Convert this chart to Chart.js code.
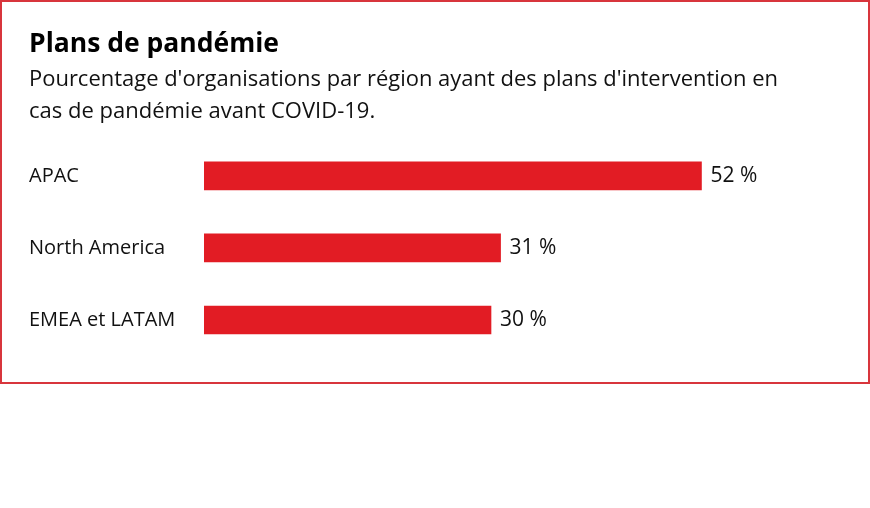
<!DOCTYPE html>
<html lang="fr">
<head>
  <meta charset="UTF-8">
  <title>Plans de pandémie</title>
  <script src="https://cdn.jsdelivr.net/npm/chart.js"></script>
  <style>
    html, body { margin: 0; padding: 0; background: #fff; }
    #box {
      position: absolute;
      left: 0; top: 0;
      width: 866px; height: 380px;
      border: 2px solid #d8353c;
    }
  </style>
</head>
<body>
  <div id="box">
    <canvas id="chart" width="866" height="380"></canvas>
  </div>

  <script>
    // Data
    var regions = ['APAC', 'North America', 'EMEA et LATAM'];
    var percentages = [52, 31, 30];
    var titleText = 'Plans de pandémie';
    var subtitleLines = [
      "Pourcentage d'organisations par région ayant des plans d'intervention en",
      'cas de pandémie avant COVID-19.'
    ];

    var fontFamily = '"Open Sans", "Noto Sans", sans-serif';
    var barRed = '#e21c24';

    // writes "52 %" just after the end of each bar
    var valueLabels = {
      id: 'valueLabels',
      afterDatasetsDraw: function(chart) {
        var ctx = chart.ctx;
        var meta = chart.getDatasetMeta(0);
        ctx.save();
        ctx.font = '21px ' + fontFamily;
        ctx.fillStyle = '#111';
        ctx.textAlign = 'left';
        ctx.textBaseline = 'middle';
        meta.data.forEach(function(bar, i) {
          ctx.fillText(percentages[i] + ' %', bar.x + 9, bar.y);
        });
        ctx.restore();
      }
    };

    new Chart(document.getElementById('chart'), {
      type: 'bar',
      data: {
        labels: regions,
        datasets: [{
          data: percentages,
          backgroundColor: barRed,
          borderWidth: 0,
          barThickness: 28
        }]
      },
      options: {
        indexAxis: 'y',
        responsive: false,
        animation: false,
        layout: {
          padding: { left: 27, right: 90, top: 0, bottom: 26 }
        },
        scales: {
          x: {
            display: false,
            min: 0,
            max: 60
          },
          y: {
            grid: { display: false },
            border: { display: false },
            ticks: {
              crossAlign: 'far',
              color: '#111',
              font: { family: fontFamily, size: 20 }
            },
            afterFit: function(scale) { scale.width = 175; }
          }
        },
        plugins: {
          legend: { display: false },
          tooltip: { enabled: false },
          title: {
            display: true,
            text: titleText,
            align: 'start',
            color: '#000',
            font: { family: fontFamily, size: 26.5, weight: 'bold', lineHeight: 1.2 },
            padding: { top: 27, bottom: 0 }
          },
          subtitle: {
            display: true,
            text: subtitleLines,
            align: 'start',
            color: '#111',
            font: { family: fontFamily, size: 22, lineHeight: 32 / 22 },
            padding: { top: 3, bottom: 12 }
          }
        }
      },
      plugins: [valueLabels]
    });
  </script>
</body>
</html>
